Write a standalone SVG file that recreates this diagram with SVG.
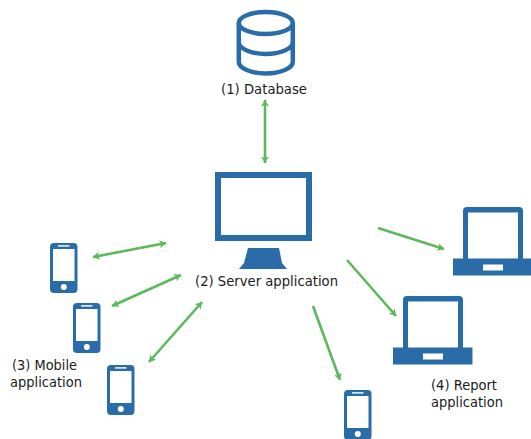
<svg xmlns="http://www.w3.org/2000/svg" xmlns:xlink="http://www.w3.org/1999/xlink" width="531" height="439" viewBox="0 0 531 439">
<style>
.t{font-family:"DejaVu Sans",sans-serif;font-size:14.500px;fill:#1a1a1a}
.b{fill:#2a6ca8}
.w{fill:#fff}
.o{fill:none;stroke:#2a6ca8;stroke-width:4.500}
.c{fill:none;stroke:#5cb85c;stroke-width:2.600;marker-end:url(#h)}
.d{marker-start:url(#s)}
</style>
<defs>
<marker id="h" markerUnits="userSpaceOnUse" markerWidth="10" markerHeight="10" refX="7.500" refY="4.500" orient="auto"><path d="M1,0.500L7.500,4.500L1,8.500L2.500,4.500Z" fill="#5cb85c"/></marker>
<marker id="s" markerUnits="userSpaceOnUse" markerWidth="10" markerHeight="10" refX="1.500" refY="4.500" orient="auto"><path d="M8,0.500L1.500,4.500L8,8.500L6.500,4.500Z" fill="#5cb85c"/></marker>
<g id="phone"><rect class="b" width="27.500" height="50" rx="4"/><rect class="w" x="3" y="6" width="21.500" height="32"/><rect class="w" x="8" y="2.200" width="11.500" height="1.400"/><circle class="w" cx="13.800" cy="44" r="3"/></g>
<g id="laptop"><rect class="b" x="10" y="0" width="60" height="56" rx="4"/><rect class="w" x="15" y="5.500" width="50" height="47"/><rect class="b" y="51.500" width="79.500" height="17"/><rect class="w" x="30" y="57.500" width="20" height="6"/></g>
</defs>
<g id="connectors">
<path class="c d" d="M265,100V163"/>
<path class="c d" d="M93,257L166,243"/>
<path class="c d" d="M112,306L181,275"/>
<path class="c d" d="M149,362L202,302"/>
<path class="c" d="M378,228L444,249"/>
<path class="c" d="M347,260L396,316"/>
<path class="c" d="M313,306L340,380"/>
</g>
<g id="database">
<ellipse class="o" cx="265.800" cy="23" rx="27" ry="11"/>
<path class="o" d="M238.800,23V62C238.800,68 251,73.500 265.800,73.500S292.800,68 292.800,62V23M238.800,42.500C238.800,48.500 251,54 265.800,54S292.800,48.500 292.800,42.500"/>
<text class="t" x="221" y="93.500" textLength="86" lengthAdjust="spacingAndGlyphs">(1) Database</text>
</g>
<g id="server">
<path class="b" fill-rule="evenodd" d="M215,172H312V241H215ZM221,178V235H306V178Z"/>
<path class="b" d="M248,248H279L282,263L287,269H239L244,263Z"/>
<text class="t" x="195" y="286" textLength="143" lengthAdjust="spacingAndGlyphs">(2) Server application</text>
</g>
<g id="mobile">
<use xlink:href="#phone" x="50" y="243"/>
<use xlink:href="#phone" x="73" y="303"/>
<use xlink:href="#phone" x="107" y="365"/>
<use xlink:href="#phone" x="344" y="390"/>
<text class="t" x="12" y="369.500" textLength="65" lengthAdjust="spacingAndGlyphs">(3) Mobile</text>
<text class="t" x="10" y="387" textLength="72" lengthAdjust="spacingAndGlyphs">application</text>
</g>
<g id="report">
<use xlink:href="#laptop" x="453" y="207"/>
<use xlink:href="#laptop" x="393" y="296"/>
<text class="t" x="431" y="389.500" textLength="66" lengthAdjust="spacingAndGlyphs">(4) Report</text>
<text class="t" x="431" y="406.500" textLength="72" lengthAdjust="spacingAndGlyphs">application</text>
</g>
</svg>
